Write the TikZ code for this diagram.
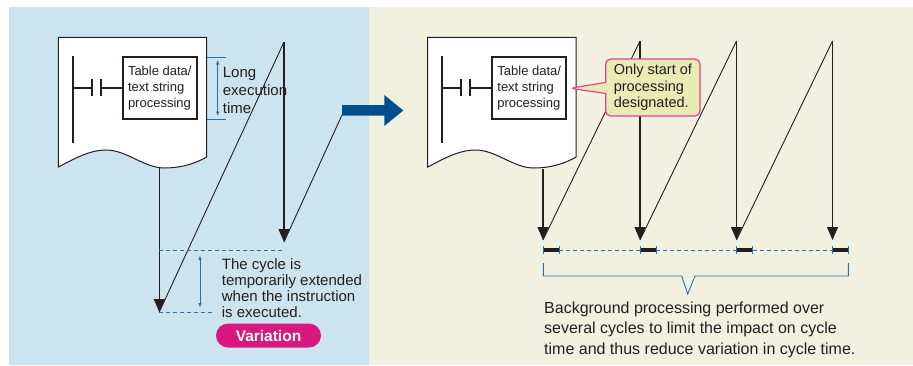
\documentclass[tikz,border=0pt]{standalone}
\usepackage{fontspec}
\setmainfont{Liberation Sans}
\usepackage{xcolor}
\usepackage{tikz}
\usetikzlibrary{arrows.meta,shapes.callouts,positioning}
\tikzset{>=Latex}

\definecolor{panelblue}{HTML}{CCE4EF}
\definecolor{panelbeige}{HTML}{F2F1E0}
\definecolor{dimblue}{HTML}{2F6FA8}
\definecolor{arrowblue}{HTML}{004F8C}
\definecolor{pillpink}{HTML}{D8177F}
\definecolor{notefill}{HTML}{E8EBB3}
\definecolor{noteedge}{HTML}{E2409A}
\definecolor{inkgray}{HTML}{231F20}

% ladder program sheet: x offset, name of the instruction box
\newcommand{\ladderdoc}[2]{%
  \begin{scope}[xshift=#1pt]
  \draw[docline, fill=white] (0,37.3) -- (148.4,37.3) -- (148.4,157)
    .. controls (138,163) and (124,168) .. (106,168)
    .. controls (86,168) and (68,150) .. (48,150)
    .. controls (30,150) and (14,160) .. (0,167) -- cycle;
  \draw[rung] (14.7,55.7) -- (14.7,143);
  \draw[rung] (14.7,87.5) -- (33.3,87.5);
  \draw[rung] (33.3,78.5) -- (33.3,95.5);
  \draw[rung] (42.3,78.5) -- (42.3,95.5);
  \node[procbox] (#2) at (101.5,87.8) {Table data/\\text string\\processing};
  \draw[rung] (42.3,87.5) -- (#2.west |- 0,87.5);
  \end{scope}}

\begin{document}
\begin{tikzpicture}[x=1pt, y=-1pt,
every node/.style={text=inkgray},
docline/.style={draw=inkgray, line width=1pt},
rung/.style={draw=inkgray, line width=2pt},
procbox/.style={rectangle, draw=inkgray, line width=2pt, fill=white, align=left, minimum width=74pt, minimum height=61.5pt, inner sep=0pt, font=\fontsize{13}{16}\selectfont},
saw/.style={draw=inkgray, line width=0.9pt},
flow/.style={draw=inkgray, line width=1.1pt, -{Triangle[width=11pt,length=13pt]}},
dimline/.style={draw=dimblue, line width=0.9pt},
dimarrow/.style={dimline, {Latex[length=5pt,width=3.5pt]}-{Latex[length=5pt,width=3.5pt]}},
dimdash/.style={dimline, dash pattern=on 4pt off 3pt},
bar/.style={draw=inkgray, line width=4.7pt},
remark/.style={anchor=north west, inner sep=0pt, align=left},
note/.style={rectangle callout, rounded corners=5pt, draw=noteedge, fill=notefill, line width=1.2pt, callout pointer width=11pt, minimum width=94.3pt, minimum height=57pt, inner sep=0pt, align=left, font=\fontsize{14.5}{16.7}\selectfont},
pill/.style={rectangle, rounded corners=12pt, fill=pillpink, minimum width=105pt, minimum height=24pt, inner sep=0pt, text=white, font=\bfseries\fontsize{15.5}{18}\selectfont},
]
\useasboundingbox (0,0) rectangle (913,365);
%Panels
\fill[white] (0,0) rectangle (913,365);
\fill[panelblue] (9,7) rectangle (369,365);
\fill[panelbeige] (369,7) rectangle (913,365);

%Left: normal execution
\coordinate (L0) at (159.3,167);
\coordinate (L1) at (159.3,312);
\coordinate (L2) at (284,42);
\coordinate (L3) at (284,242);
\coordinate (L4) at (342,115);
\draw[flow] (L0) -- (L1);
\draw[saw] (L1) -- (L2);
\draw[flow] (L2) -- (L3);
\draw[saw] (L3) -- (L4);

\ladderdoc{58.3}{tbl1}

\draw[dimline] (207.3,57.3) -- (226,57.3);
\draw[dimline] (207.3,119) -- (226,119);
\draw[dimarrow] (217.7,59.5) -- (217.7,116.5);
\node[remark, font=\fontsize{15}{18}\selectfont] (longtime) at (222.7,66.5) {Long\\execution\\time};

\draw[dimdash] (L1 |- 0,250) -- (L3 |- 0,250);
\draw[dimdash] (L1) -- ++(54,0);
\draw[dimarrow] (200,255) -- (200,308);
\node[remark, font=\fontsize{15}{16.3}\selectfont] (cycletext) at (221.7,258) {The cycle is\\temporarily extended\\when the instruction\\is executed.};
\node[pill] (variation) at (268.5,335.5) {Variation};

%Big arrow
\fill[arrowblue] (L4 |- 0,105) -- (384.3,105) -- (384.3,95) -- (403.3,110.5) -- (384.3,126) -- (384.3,115.7) -- (L4 |- 0,115.7) -- cycle;

%Right: background processing
\coordinate (R0) at (543,169);
\coordinate (R1) at (543,240);
\draw[flow] (R0) -- (R1);
\foreach \a/\b in {543/640, 640/736.5, 736.5/832.5} {
  \draw[saw] (\a,240) -- (\b,41);
  \draw[flow] (\b,41) -- (\b,240);
}

\ladderdoc{427.7}{tbl2}

\foreach \x in {543.3,640,736.5,832.3} {
  \draw[bar] (\x,250) -- ++(16,0);
  \draw[dimline] (\x,246) -- ++(0,8);
  \draw[dimline] (\x+16,246) -- ++(0,8);
}
\foreach \a/\b in {559.3/640, 656/736.5, 752.5/832.3}
  \draw[dimdash] (\a,250) -- (\b,250);

\draw[dimline] (543.3,263) -- (543.3,276) -- (681.7,276) -- (687.7,294) -- (695,276) -- (848.3,276) -- (848.3,263);
\node[remark, font=\fontsize{16}{20.5}\selectfont] (bgtext) at (544,301.5) {Background processing performed over\\several cycles to limit the impact on cycle\\time and thus reduce variation in cycle time.};

\coordinate (ptip) at (570,88.3);
\node[note, callout absolute pointer={(ptip)}] (onlystart) at (652.85,87.5) {Only start of\\processing\\designated.};
\end{tikzpicture}
\end{document}
